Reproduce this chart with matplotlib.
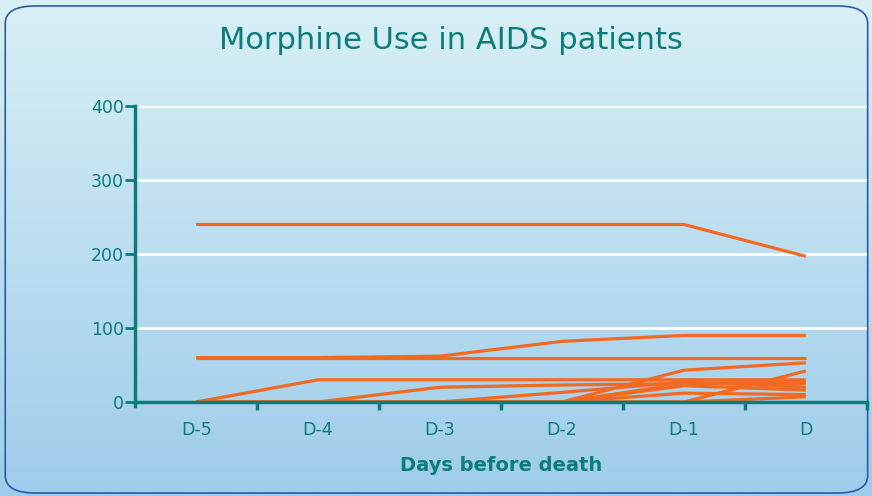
import numpy as np
import matplotlib.pyplot as plt
from matplotlib.patches import FancyBboxPatch

teal = "#0b7d7a"
orange = "#f26a22"

days = ['D-5', 'D-4', 'D-3', 'D-2', 'D-1', 'D']

# morphine dose per patient
p01 = [240, 240, 240, 240, 240, 197]
p02 = [60, 60, 62, 82, 90, 90]
p03 = [60, 60, 60, 60, 60, 60]
p04 = [0, 30, 30, 30, 30, 30]
p05 = [0, 0, 20, 23, 25, 25]
p06 = [0, 0, 0, 13, 27, 20]
p07 = [0, 0, 0, 0, 43, 53]
p08 = [0, 0, 0, 0, 25, 28]
p09 = [0, 0, 0, 0, 22, 16]
p10 = [0, 0, 0, 0, 12, 10]
p11 = [0, 0, 0, 0, 0, 42]
p12 = [0, 0, 0, 0, 0, 7]
patients = [p01, p02, p03, p04, p05, p06, p07, p08, p09, p10, p11, p12]

yticks = [0, 100, 200, 300, 400]

fig = plt.figure(figsize=(8.72, 4.96), dpi=100)

# gradient background
bg = fig.add_axes([0, 0, 1, 1], zorder=-2)
grad = np.linspace(0, 1, 256).reshape(-1, 1)
top = np.array([0.85, 0.94, 0.96])
bot = np.array([0.62, 0.80, 0.92])
img = top + (bot - top) * grad[:, :, None]
bg.imshow(img, aspect='auto', extent=[0, 1, 0, 1])
bg.set_xlim(0, 1); bg.set_ylim(0, 1)
bg.axis('off')
box = FancyBboxPatch((0.006, 0.006), 0.989, 0.982,
                     boxstyle="round,pad=0,rounding_size=0.035",
                     fc='none', ec='#2a5da6', lw=1.2, transform=bg.transAxes)
bg.add_patch(box)

ax = fig.add_axes([0.155, 0.1895, 0.839, 0.5965])
ax.set_facecolor('none')
x = np.arange(len(days))
for p in patients:
    ax.plot(x, p, color=orange, lw=2.3, solid_capstyle='butt')

ax.set_xlim(-0.5, 5.5)
ax.set_ylim(0, 400)
ax.set_yticks(yticks)
for v in yticks[1:]:
    ax.axhline(v, color='white', lw=2, zorder=0)

ax.set_xticks(x)
ax.set_xticklabels(days)
ax.set_xticks(x + 0.5, minor=True)
ax.tick_params(axis='x', which='major', length=0, pad=14, labelsize=12.5, labelcolor=teal)
ax.tick_params(axis='x', which='minor', length=6, width=2.5, color=teal, direction='out')
ax.tick_params(axis='y', length=7, width=2, color=teal, labelsize=12.5, labelcolor=teal, pad=1)

for s in ['top', 'right']:
    ax.spines[s].set_visible(False)
for s in ['left', 'bottom']:
    ax.spines[s].set_color(teal)
    ax.spines[s].set_linewidth(2.5)
ax.spines['left'].set_bounds(-6, 400)

ax.set_xlabel('Days before death', color=teal, fontsize=14, fontweight='bold', labelpad=12)

fig.text(0.517, 0.918, 'Morphine Use in AIDS patients', color=teal, fontsize=22,
         ha='center', va='center')

fig.savefig('out.png', dpi=100)
